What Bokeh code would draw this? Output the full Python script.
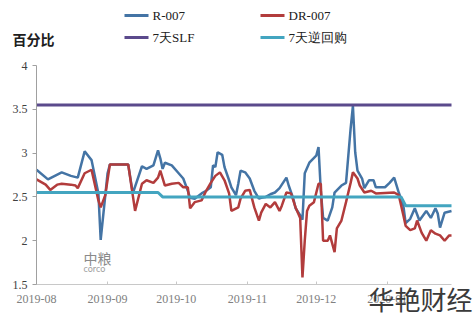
from datetime import timedelta
import pandas as pd
from bokeh.plotting import figure
from bokeh.models import Range1d, Label, BoxAnnotation, DatetimeTickFormatter, FixedTicker
from bokeh.embed import file_html
from bokeh.resources import INLINE

# ---------------- data ----------------
r007_dates = ["2019-08-01", "2019-08-06", "2019-08-12", "2019-08-16", "2019-08-19", "2019-08-22",
              "2019-08-25", "2019-08-28", "2019-08-29", "2019-09-01", "2019-09-02", "2019-09-10",
              "2019-09-12", "2019-09-16", "2019-09-18", "2019-09-21", "2019-09-23", "2019-09-24",
              "2019-09-25", "2019-09-26", "2019-09-29", "2019-10-02", "2019-10-04", "2019-10-06",
              "2019-10-07", "2019-10-09", "2019-10-12", "2019-10-14", "2019-10-16", "2019-10-17",
              "2019-10-18", "2019-10-19", "2019-10-21", "2019-10-22", "2019-10-24", "2019-10-25",
              "2019-10-27", "2019-10-28", "2019-10-29", "2019-10-31", "2019-11-02", "2019-11-04",
              "2019-11-06", "2019-11-07", "2019-11-09", "2019-11-11", "2019-11-13", "2019-11-15",
              "2019-11-18", "2019-11-19", "2019-11-21", "2019-11-22", "2019-11-24", "2019-11-25",
              "2019-11-26", "2019-11-28", "2019-12-01", "2019-12-02", "2019-12-03", "2019-12-04",
              "2019-12-06", "2019-12-08", "2019-12-09", "2019-12-12", "2019-12-14", "2019-12-16",
              "2019-12-17", "2019-12-18", "2019-12-19", "2019-12-21", "2019-12-22", "2019-12-24",
              "2019-12-26", "2019-12-27", "2019-12-31", "2020-01-02", "2020-01-04", "2020-01-06",
              "2020-01-08", "2020-01-09", "2020-01-11", "2020-01-13", "2020-01-15", "2020-01-18",
              "2020-01-20", "2020-01-22", "2020-01-23", "2020-01-24", "2020-01-26", "2020-01-29"]
r007_vals = [2.81, 2.70, 2.78, 2.74, 2.72, 3.02,
             2.92, 2.54, 2.01, 2.77, 2.87, 2.87,
             2.54, 2.85, 2.82, 2.86, 3.03, 2.94,
             2.82, 2.89, 2.86, 2.77, 2.71, 2.57,
             2.49, 2.48, 2.54, 2.57, 2.61, 2.86,
             2.84, 3.01, 2.98, 2.84, 2.69, 2.61,
             2.52, 2.65, 2.80, 2.78, 2.71, 2.57,
             2.48, 2.49, 2.50, 2.53, 2.55, 2.60,
             2.72, 2.63, 2.48, 2.37, 2.29, 2.24,
             2.77, 2.89, 2.97, 3.07, 2.57, 2.26,
             2.23, 2.38, 2.55, 2.63, 2.66, 3.28,
             3.54, 3.01, 2.80, 2.71, 2.60, 2.69,
             2.69, 2.61, 2.61, 2.66, 2.72, 2.55,
             2.40, 2.20, 2.25, 2.37, 2.23, 2.34,
             2.26, 2.37, 2.31, 2.15, 2.32, 2.34]

dr007_dates = ["2019-08-01", "2019-08-05", "2019-08-07", "2019-08-10", "2019-08-12", "2019-08-16",
               "2019-08-18", "2019-08-19", "2019-08-22", "2019-08-25", "2019-08-28", "2019-08-29",
               "2019-08-31", "2019-09-02", "2019-09-10", "2019-09-13", "2019-09-16", "2019-09-18",
               "2019-09-21", "2019-09-23", "2019-09-24", "2019-09-26", "2019-09-29", "2019-10-02",
               "2019-10-04", "2019-10-06", "2019-10-07", "2019-10-09", "2019-10-12", "2019-10-14",
               "2019-10-16", "2019-10-18", "2019-10-20", "2019-10-22", "2019-10-24", "2019-10-25",
               "2019-10-28", "2019-10-29", "2019-10-31", "2019-11-02", "2019-11-04", "2019-11-06",
               "2019-11-07", "2019-11-09", "2019-11-11", "2019-11-13", "2019-11-15", "2019-11-16",
               "2019-11-18", "2019-11-20", "2019-11-22", "2019-11-24", "2019-11-25", "2019-11-26",
               "2019-11-27", "2019-11-28", "2019-11-30", "2019-12-02", "2019-12-03", "2019-12-04",
               "2019-12-06", "2019-12-07", "2019-12-09", "2019-12-10", "2019-12-12", "2019-12-14",
               "2019-12-16", "2019-12-17", "2019-12-19", "2019-12-20", "2019-12-22", "2019-12-25",
               "2019-12-27", "2020-01-04", "2020-01-06", "2020-01-08", "2020-01-09", "2020-01-11",
               "2020-01-13", "2020-01-14", "2020-01-16", "2020-01-18", "2020-01-20", "2020-01-22",
               "2020-01-24", "2020-01-26", "2020-01-28", "2020-01-29"]
dr007_vals = [2.70, 2.64, 2.58, 2.64, 2.65, 2.64,
              2.63, 2.60, 2.77, 2.81, 2.46, 2.38,
              2.52, 2.87, 2.87, 2.34, 2.65, 2.69,
              2.66, 2.72, 2.80, 2.63, 2.65, 2.66,
              2.61, 2.61, 2.37, 2.44, 2.46, 2.57,
              2.66, 2.74, 2.78, 2.69, 2.54, 2.34,
              2.38, 2.48, 2.57, 2.58, 2.38, 2.23,
              2.32, 2.42, 2.38, 2.44, 2.34, 2.40,
              2.55, 2.54, 2.38, 2.26, 1.58, 2.00,
              2.34, 2.40, 2.44, 2.65, 2.65, 2.00,
              2.00, 2.06, 1.87, 2.14, 2.23, 2.44,
              2.66, 2.78, 2.71, 2.63, 2.55, 2.57,
              2.54, 2.55, 2.52, 2.29, 2.17, 2.12,
              2.14, 2.23, 2.09, 2.00, 2.12, 2.08,
              2.06, 2.00, 2.06, 2.06]

slf_dates = ["2019-08-01", "2020-01-29"]
slf_vals = [3.55, 3.55]

rr_dates = ["2019-08-01", "2019-09-23", "2019-09-25", "2020-01-07", "2020-01-09", "2020-01-29"]
rr_vals = [2.55, 2.55, 2.50, 2.50, 2.40, 2.40]

x_tick_dates = ["2019-08-01", "2019-09-01", "2019-10-01", "2019-11-01", "2019-12-01", "2020-01-01"]
x_start, x_end = "2019-08-01", "2020-01-29"
y_ticks = [1.5, 2, 2.5, 3, 3.5, 4]
y_tick_labels = ["1.5", "2", "2.5", "3", "3.5", "4"]
y_min, y_max = 1.5, 4.0

series_names = ["R-007", "DR-007", "7天SLF", "7天逆回购"]
series_colors = ["#4474a5", "#b23c3c", "#5b4a8c", "#43a5c0"]
y_title = "百分比"
watermark = "华艳财经"

# ---------------- layout (pixels) ----------------
W, H = 475, 318
FRAME_L, FRAME_R, FRAME_T, FRAME_B = 36, 451, 65, 284


def dt(s):
    return pd.to_datetime(s)


def ms(t):
    return t.timestamp() * 1000.0


# extend the data ranges so that the plotted area sits at FRAME_* inside a full-canvas frame
x0, x1 = dt(x_start), dt(x_end)
px_per_day = (FRAME_R - FRAME_L) / ((x1 - x0) / timedelta(days=1))
xr = Range1d(x0 - timedelta(days=FRAME_L / px_per_day), x1 + timedelta(days=(W - FRAME_R) / px_per_day))
px_per_unit = (FRAME_B - FRAME_T) / (y_max - y_min)
yr = Range1d(y_min - (H - FRAME_B) / px_per_unit, y_max + FRAME_T / px_per_unit)

p = figure(width=W, height=H, x_axis_type="datetime", output_backend="svg",
           toolbar_location=None, x_range=xr, y_range=yr,
           min_border=0, min_border_left=0, min_border_right=0,
           min_border_top=0, min_border_bottom=0)
p.outline_line_color = None
p.xgrid.visible = False
p.ygrid.visible = False
p.background_fill_color = "white"
p.border_fill_color = "white"

p.xaxis.fixed_location = y_min
p.xaxis.bounds = (ms(x0), ms(x1))
p.xaxis.ticker = FixedTicker(ticks=[ms(dt(d)) for d in x_tick_dates])
fmt = "%Y-%m"
p.xaxis.formatter = DatetimeTickFormatter(days=fmt, months=fmt, years=fmt, hours=fmt,
                                          minutes=fmt, seconds=fmt, milliseconds=fmt, microseconds=fmt,
                                          minsec=fmt, hourmin=fmt)
p.xaxis.axis_line_color = "#c8c8c8"
p.xaxis.major_tick_line_color = "#c8c8c8"
p.xaxis.major_tick_in = 3
p.xaxis.major_tick_out = 0
p.xaxis.minor_tick_line_color = None
p.xaxis.major_label_text_font = "serif"
p.xaxis.major_label_text_font_size = "12px"
p.xaxis.major_label_text_color = "#808080"
p.xaxis.major_label_standoff = 10

p.yaxis.fixed_location = ms(x0)
p.yaxis.bounds = (y_min, y_max)
p.yaxis.ticker = FixedTicker(ticks=y_ticks)
p.yaxis.major_label_overrides = {t: l for t, l in zip(y_ticks, y_tick_labels)}
p.yaxis.axis_line_color = "#a0a0a0"
p.yaxis.major_tick_line_color = "#a0a0a0"
p.yaxis.major_tick_in = 0
p.yaxis.major_tick_out = 4
p.yaxis.minor_tick_line_color = None
p.yaxis.major_label_text_font = "Liberation Serif"
p.yaxis.major_label_text_font_size = "12px"
p.yaxis.major_label_text_color = "#404040"
p.yaxis.major_label_standoff = 5

all_dates = [r007_dates, dr007_dates, slf_dates, rr_dates]
all_vals = [r007_vals, dr007_vals, slf_vals, rr_vals]
widths = [2.5, 2.5, 3, 3]
for d, v, c, w in zip(all_dates, all_vals, series_colors, widths):
    p.line([dt(x) for x in d], v, line_color=c, line_width=w)

# ---------------- legend (manual, screen units; frame == canvas) ----------------
legend_pos = [(124, 15), (260, 15), (124, 37), (260, 37)]
for (cx, cy), name, col in zip(legend_pos, series_names, series_colors):
    p.add_layout(BoxAnnotation(left=cx, right=cx + 24,
                               top=H - cy + 1.5, bottom=H - cy - 1.5,
                               left_units="screen", right_units="screen",
                               top_units="screen", bottom_units="screen",
                               fill_color=col, fill_alpha=1, line_color=None))
    p.add_layout(Label(x=cx + 28, y=H - cy, x_units="screen", y_units="screen",
                       text=name, text_font="Times New Roman", text_font_size="13px",
                       text_color="#202020", text_baseline="middle"))

p.add_layout(Label(x=12, y=H - 38, x_units="screen", y_units="screen",
                   text=y_title, text_font="Noto Sans CJK SC", text_font_style="bold",
                   text_font_size="14px", text_color="#202020", text_baseline="middle"))

# logo text
p.add_layout(Label(x=83, y=H - 257, x_units="screen", y_units="screen",
                   text="中粮", text_font="Noto Sans CJK SC", text_font_size="14px",
                   text_color="#8a8a8a", text_baseline="middle"))
p.add_layout(Label(x=83, y=H - 268, x_units="screen", y_units="screen",
                   text="corco", text_font="Lato", text_font_size="9px",
                   text_color="#a0a0a0", text_baseline="middle"))

# watermark
p.add_layout(Label(x=368, y=H - 298, x_units="screen", y_units="screen",
                   text=watermark, text_font="Noto Sans CJK SC", text_font_size="26px",
                   text_color="#3a3a3a", text_baseline="middle"))

open("out.html", "w").write(file_html(p, INLINE))
